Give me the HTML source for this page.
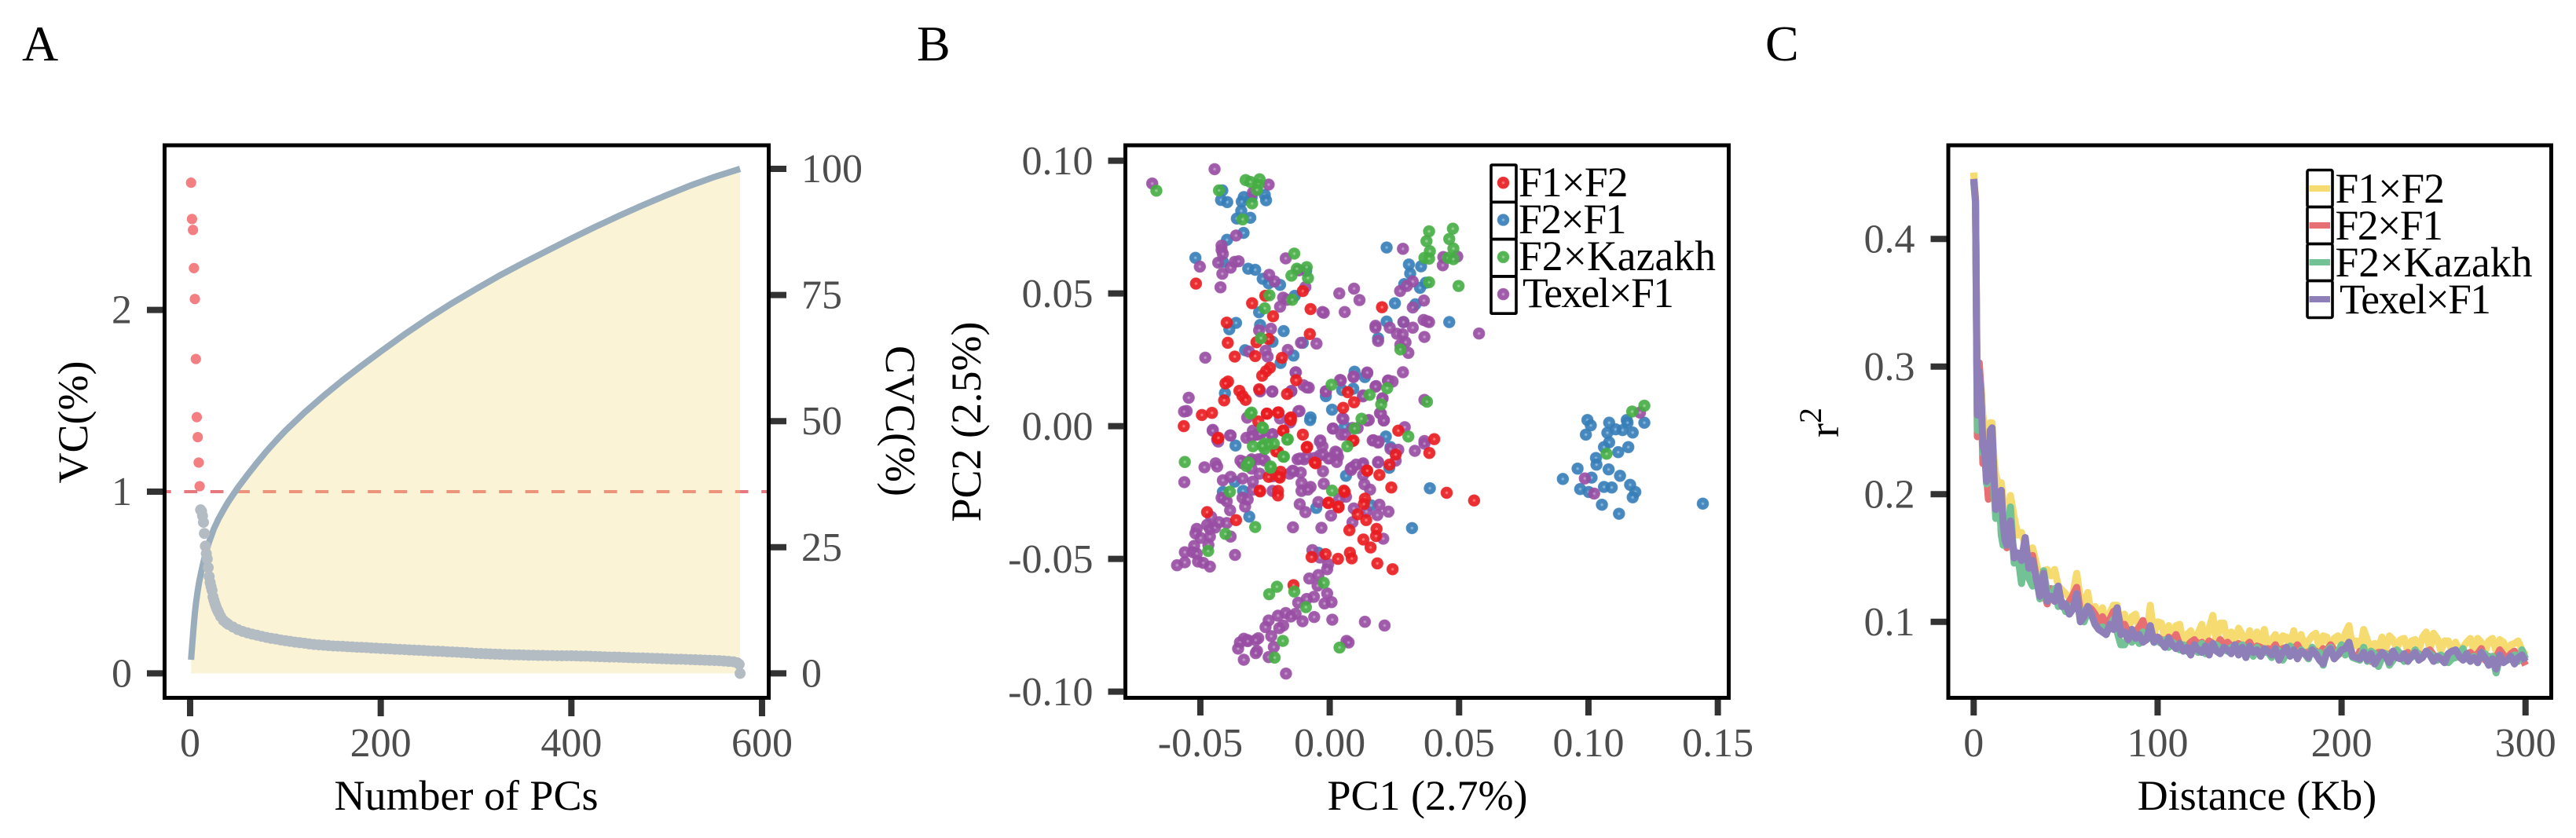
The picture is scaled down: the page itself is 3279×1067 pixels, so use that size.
<!DOCTYPE html>
<html lang="en">
<head>
<meta charset="utf-8">
<title>PCA and LD decay panels</title>
<style>
html,body{margin:0;padding:0;background:#fff;}
svg{display:block;}
text{font-family:"Liberation Serif",serif;}
.tick{font-size:52px;fill:#4d4d4d;}
.title{font-size:54px;fill:#000;}
.legend{font-size:53.5px;fill:#000;}
.panel-tag{font-size:64px;fill:#000;}
</style>
</head>
<body>
<svg id="chart" xmlns="http://www.w3.org/2000/svg" width="3279" height="1067" viewBox="0 0 3279 1067">
<defs>
<radialGradient id="g-red"><stop offset="0" stop-color="#f77"/><stop offset=".14" stop-color="#f66"/><stop offset=".3" stop-color="#e81c20"/><stop offset=".88" stop-color="#e81c20"/><stop offset="1" stop-color="#e81c20" stop-opacity=".75"/></radialGradient>
<radialGradient id="g-blue"><stop offset="0" stop-color="#7db4dc"/><stop offset=".14" stop-color="#74aed8"/><stop offset=".3" stop-color="#377eb8"/><stop offset=".88" stop-color="#377eb8"/><stop offset="1" stop-color="#377eb8" stop-opacity=".75"/></radialGradient>
<radialGradient id="g-green"><stop offset="0" stop-color="#8ed08c"/><stop offset=".14" stop-color="#85cc83"/><stop offset=".3" stop-color="#46ad44"/><stop offset=".88" stop-color="#46ad44"/><stop offset="1" stop-color="#46ad44" stop-opacity=".75"/></radialGradient>
<radialGradient id="g-purple"><stop offset="0" stop-color="#c08fc9"/><stop offset=".14" stop-color="#b988c2"/><stop offset=".3" stop-color="#984ea3"/><stop offset=".88" stop-color="#984ea3"/><stop offset="1" stop-color="#984ea3" stop-opacity=".75"/></radialGradient>
</defs>
<text class="panel-tag" x="28" y="77">A</text>
<text class="panel-tag" x="1167" y="77">B</text>
<text class="panel-tag" x="2247" y="77">C</text>
<g id="panelA"></g>
<g id="panelB"></g>
<g id="panelC"></g>

<text class="title" x="593.5" y="1031" text-anchor="middle">Number of PCs</text>
<text class="title" transform="translate(111 537.5) rotate(-90)" text-anchor="middle">VC(%)</text>
<text class="title" transform="translate(1128 536) rotate(90)" text-anchor="middle">CVC(%)</text>
<text class="title" x="1817" y="1031" text-anchor="middle">PC1 (2.7%)</text>
<text class="title" transform="translate(1248 537) rotate(-90)" text-anchor="middle">PC2 (2.5%)</text>
<text class="title" x="2873" y="1031" text-anchor="middle">Distance (Kb)</text>
<text class="title" transform="translate(2340 538) rotate(-90)" text-anchor="middle">r<tspan dy="-22" font-size="40">2</tspan></text>
</svg>
<script>
/* ---------- Panel A data ---------- */
var aXTicks = [0, 200, 400, 600];
var aYTicks = [0, 1, 2];
var aY2Ticks = [0, 25, 50, 75, 100];
var vcThreshold = 1;
var aboveThresholdPC = [1, 2, 3, 4, 5, 6, 7, 8, 9, 10];
var aboveThresholdVC = [2.70, 2.50, 2.44, 2.23, 2.06, 1.73, 1.41, 1.30, 1.16, 1.03];
var belowThresholdPC = [11,12,13,14,15,16,17,18,19,20,21,22,23,24,25,26,27,28,29,30,32,35,38,40,45,50,55,60,65,70,75,80,85,90,95,100,105,110,115,120,125,130,135,140,145,150,155,160,165,170,175,180,185,190,195,200,205,210,215,220,225,230,235,240,245,250,255,260,265,270,275,280,285,290,295,300,305,310,315,320,325,330,335,340,345,350,355,360,365,370,375,380,385,390,395,400,405,410,415,420,425,430,435,440,445,450,455,460,465,470,475,480,485,490,495,500,505,510,515,520,525,530,535,540,545,550,555,560,565,570,574,576,577];
var belowThresholdVC = [.900,.892,.867,.831,.770,.700,.659,.630,.582,.533,.500,.477,.457,.421,.403,.385,.370,.356,.345,.334,.313,.291,.278,.270,.255,.241,.231,.223,.216,.210,.204,.198,.193,.189,.184,.180,.176,.172,.169,.166,.162,.159,.157,.155,.153,.151,.150,.149,.147,.146,.144,.143,.142,.140,.139,.137,.136,.135,.133,.132,.131,.129,.128,.127,.126,.124,.123,.122,.121,.119,.118,.117,.115,.114,.112,.110,.109,.108,.107,.106,.105,.104,.103,.102,.102,.101,.100,.100,.099,.099,.098,.098,.097,.097,.097,.097,.096,.095,.095,.094,.093,.092,.091,.090,.090,.089,.088,.087,.086,.085,.085,.084,.083,.082,.081,.080,.079,.078,.078,.077,.076,.075,.074,.073,.072,.071,.070,.068,.066,.064,.058,.050,0];
var cvcPC = [1,2,3,4,5,6,7,8,9,10,12,14,16,18,20,25,30,35,40,50,60,70,80,90,100,120,140,160,180,200,225,250,275,300,325,350,375,400,425,450,475,500,525,550,577];
var cvcValues = [2.7,5.2,7.6,9.9,12.0,13.7,15.1,16.4,17.6,18.6,20.4,22.1,23.6,24.9,26.1,28.7,30.7,32.4,34.0,36.8,39.3,41.7,44.0,46.1,48.1,51.7,55.0,58.1,61.0,63.8,67.2,70.4,73.4,76.2,78.9,81.4,83.8,86.2,88.5,90.7,92.8,94.8,96.7,98.4,100];

/* ---------- Panel B data (PC scores in units of 0.001) ---------- */
var bXTicks = [-0.05, 0, 0.05, 0.10, 0.15];
var bXTickLabels = ["-0.05", "0.00", "0.05", "0.10", "0.15"];
var bYTicks = [-0.10, -0.05, 0, 0.05, 0.10];
var bYTickLabels = ["-0.10", "-0.05", "0.00", "0.05", "0.10"];
var legendLabels = ["F1×F2", "F2×F1", "F2×Kazakh", "Texel×F1"];
var legendTextWidths = [139.5, 137.5, 251, 193];
var f2f1PC1 = [-41.5,-42.0,-39.6,-33.2,-34.0,-25.1,-24.6,-30.2,-34.2,-35.9,-30.7,-33.3,-39.7,-51.9,-41.3,-31.5,-28.8,-25.9,-23.6,-19.2,-13.5,-9.1,22.0,30.6,35.3,31.1,28.8,37.1,34.9,25.2,33.1,22.0,28.5,46.2,18.7,-36.2,-38.8,-27.3,-26.9,-17.8,-22.1,-32.7,-14.0,-19.0,-10.4,9.6,13.6,9.1,4.8,-1.5,0.9,-40.5,-7.4,
 -36.4,-7.6,5.8,21.7,23.5,23.0,6.3,-36.7,-41.3,-33.5,-5.2,15.9,-31.1,31.8,38.7,-4.4,
 99.6,100.9,99.0,108.0,107.3,110.5,113.2,117.1,114.8,115.1,121.6,108.0,106.0,111.5,115.4,102.9,103.1,95.8,107.8,112.2,90.1,101.2,116.1,118.1,117.1,96.8,100.1,106.0,109.0,105.2,111.8,144.2];
var f2f1PC2 = [88.8,85.2,84.4,86.3,84.6,87.1,85.1,86.1,81.1,78.2,78.5,72.8,70.2,63.4,61.9,59.3,58.9,55.5,53.8,53.2,49.1,58.5,67.3,60.9,60.2,57.5,53.5,54.0,52.1,46.3,45.9,39.4,39.2,39.2,33.1,38.9,36.5,42.9,38.1,35.8,31.8,28.6,26.6,23.8,31.4,20.5,18.5,14.1,13.6,11.3,6.2,12.4,3.3,
 -7.3,2.3,-0.2,-3.9,-7.9,-15.7,-18.7,-20.9,-24.8,-24.4,-30.8,-29.8,-34.1,-38.4,-23.4,-47.7,
 2.3,0.3,-3.2,1.3,-2.5,-1.2,-1.5,-2.4,2.3,1.3,1.3,-6.1,-7.9,-9.8,-7.9,-12.0,-14.5,-16.0,-16.3,-18.7,-19.9,-19.4,-22.1,-24.8,-26.8,-23.7,-24.8,-22.9,-23.1,-29.6,-33.0,-29.2];
var texelF1PC1 = [-68.6,-44.5,-23.6,-29.7,-36.2,-41.8,-41.8,-41.3,-43.1,-50.2,-38.3,-36.7,-35.2,-41.5,-42.2,-17.0,-23.4,-21.3,-11.9,-9.4,-18.0,-16.5,-19.2,-2.3,-2.8,5.8,3.7,9.4,11.5,28.3,43.7,43.9,49.3,32.1,29.8,27.2,36.4,32.1,28.5,36.3,37.6,38.4,32.1,17.7,17.7,23.2,26.0,28.2,18.7,36.6,27.3,29.3,30.4,57.7,-27.3,-22.7,-11.1,-5.1,-31.2,-24.8,-24.0,-16.2,-48.1,-13.1,4.0,9.2,14.5,28.3,-10.1,-8.1,-26.9,-22.2,-14.8,-1.5,12.9,17.9,22.5,24.3,20.4,36.6,-54.5,-55.3,-56.3,-11.7,19.4,
 -45.2,-38.5,-43.1,-32.2,-29.7,-28.1,-26.6,-22.1,-32.2,-33.2,-30.2,-27.6,-25.1,-33.7,-44.1,-43.5,-48.4,-56.2,-41.3,-38.3,-33.7,-29.7,-27.1,-22.1,-30.2,-15.5,-14.0,-11.2,-9.9,-12.4,-5.9,-3.8,-2.8,-3.8,1.2,4.5,5.3,8.8,10.8,15.1,20.9,16.9,18.9,29.0,36.6,36.6,32.9,23.5,26.5,25.5,18.7,12.9,8.8,12.9,8.3,-2.6,0.2,2.2,3.2,2.7,-2.3,-10.9,-10.9,-7.4,-8.4,-22.1,-29.7,-40.8,-41.8,-39.8,-33.7,-31.7,-32.7,-38.5,-11.6,-4.4,-9.4,0.5,3.7,6.3,9.3,14.2,19.2,22.7,18.4,8.8,15.6,13.4,-45.8,-47.4,-46.3,-44.3,-39.8,-42.8,-51.4,-51.9,-49.9,-46.3,-46.9,-52.4,-56.0,-52.9,-51.4,-56.0,-59.0,-50.9,-48.9,-46.3,-38.3,-36.6,-14.2,-3.2,20.7,-6.7,-3.8,-0.6,-1.0,-4.4,-7.9,-4.7,-1.0,0.7,-2.0,-6.1,-8.9,-12.2,-13.2,-17.0,-20.0,-15.0,-23.6,-24.8,-18.0,-19.5,-10.5,-6.0,1.0,13.6,21.2,-22.6,-27.6,-28.6,-31.7,-33.2,-34.7,-31.7,-35.4,-21.6,-28.1,-28.6,-33.2,-23.6,-16.9,6.5,7.3,
 119.9,98.6,102.2,
 -31.9,-28.5,-30.2,-27.0,-22.4,-19.2,-15.3,-12.1,-45.2,-38.3,-43.5,-30.2,-34.5,-26.0,-21.7,-14.3,-11.5,-8.9,-3.6,-2.6,-0.4,2.8,8.1,10.2,12.8,16.6,18.7,18.7,20.9,19.8,14.5,1.3,4.9,6.0,20.4,22.6,17.7,12.8,-1.5,4.3,9.2,14.5,-8.9,-14.9,-22.2,-27.0,-13.2];
var texelF1PC2 = [91.4,96.8,91.0,88.0,71.8,68.0,66.4,64.9,61.6,60.1,59.7,61.9,62.1,57.4,52.3,63.2,57.0,54.5,58.7,52.4,48.4,47.6,45.0,42.7,43.0,43.0,50.0,51.8,47.5,66.8,60.6,63.7,63.9,54.5,52.8,50.9,47.3,44.7,39.2,40.0,39.5,39.2,37.1,37.8,37.1,37.1,34.8,34.6,32.1,33.6,30.6,31.6,27.6,34.9,36.1,36.7,31.4,31.1,28.1,28.4,26.2,28.7,25.8,20.3,17.4,18.5,20.0,20.3,15.4,14.5,13.1,13.0,13.3,13.1,11.6,15.1,17.1,16.8,10.5,9.9,10.7,5.7,5.5,5.7,4.9,
 -1.4,-3.5,-5.8,-4.4,-1.7,-3.2,-2.7,-3.0,-13.8,-13.5,-12.5,-12.5,-13.0,-14.0,-14.0,-15.2,-15.5,-21.1,-20.4,-19.1,-19.7,-20.9,-17.9,-18.9,-16.0,-17.9,-17.0,-17.5,-12.5,-12.5,-12.0,-11.0,-7.6,-5.8,-0.9,-3.2,2.8,-0.7,-0.7,2.3,2.3,-5.3,-5.8,-0.4,-5.6,-6.6,-9.3,-8.6,-8.9,-13.0,-13.5,-14.0,-15.5,-18.4,-16.5,-17.0,-12.0,-9.6,-11.5,-13.5,-21.7,-21.4,-24.4,-22.9,-23.9,-24.4,-23.9,-27.3,-27.0,-28.3,-27.0,-27.6,-30.3,-31.7,-29.4,-28.6,-32.4,-33.7,-27.3,-26.6,-31.0,-32.2,-29.6,-32.2,-33.5,-36.2,-23.9,-21.9,-34.2,-37.2,-38.7,-38.2,-36.5,-36.2,-38.7,-40.4,-42.1,-41.6,-44.8,-45.1,-47.5,-47.5,-48.0,-51.3,-52.4,-51.0,-51.5,-52.9,-41.6,-48.5,-38.1,-38.3,-42.4,-46.7,-49.5,-52.0,-53.9,-56.1,-57.4,-60.1,-63.0,-66.3,-66.8,-64.3,-65.1,-66.5,-70.7,-70.4,-71.4,-71.7,-73.2,-75.7,-75.1,-76.1,-73.5,-71.9,-72.9,-73.7,-75.1,-79.1,-79.9,-80.6,-80.6,-80.1,-81.5,-81.0,-83.8,-83.2,-84.7,-85.5,-88.0,-87.0,-93.2,-80.9,-81.5,
 5.1,-19.7,-25.4,
 3.2,-3.2,-3.9,-2.9,-3.2,2.9,1.4,5.6,-1.7,-3.5,-5.1,-13.0,-13.0,-12.2,-18.3,-16.8,-12.2,-11.5,-5.4,-10.7,-12.2,-10.0,-16.0,-14.5,-14.5,-5.4,-6.2,-13.7,2.1,4.7,2.1,-0.9,2.9,-3.2,10.4,17.2,14.9,11.2,13.1,17.2,18.7,20.2,14.6,13.1,13.1,13.4,20.2];
var f1f2PC1 = [-51.7,-24.9,-30.0,-21.9,-10.4,-7.4,20.2,-39.8,-7.7,-39.4,-28.3,-23.6,-36.7,-28.8,-18.5,-23.1,-24.6,-26.1,-13.0,-39.3,-40.3,-34.9,-33.7,-32.5,-27.3,-16.5,-40.8,7.0,9.4,5.2,-49.4,-45.5,-24.3,-19.8,-15.0,
 -56.4,-43.3,-18.0,-10.4,8.8,26.5,40.4,38.5,25.5,23.1,19.2,14.4,-8.7,-20.0,-5.4,-19.0,-19.3,-23.6,23.8,45.2,55.8,-26.9,-20.0,-20.0,5.8,-0.6,3.4,13.6,13.2,10.8,14.1,-47.4,-36.2,7.6,18.1,17.9,13.0,15.8,-1.6,-7.0,3.2,7.8,8.5,18.4,24.3,-14.0,-27.6,-15.0,
 -24.3,-20.0,-15.3,-17.9,-43.0,9.2,-8.9,-20.7,-5.8,14.5,-19.6,-27.0,5.5,-0.4,3.4];
var f1f2PC2 = [53.7,49.1,46.3,41.4,50.9,44.1,44.8,39.0,34.7,31.4,31.6,32.8,26.2,26.4,25.7,22.0,20.7,19.0,17.3,16.8,16.1,13.3,11.4,9.9,13.9,12.1,9.7,12.8,9.0,6.9,4.2,5.0,4.7,5.2,3.3,
 0,-4.6,-1.7,-3.2,-5.6,-1.7,-4.9,-10.1,-10.7,-14.5,-18.4,-16.7,-7.8,-9.6,-14.0,-17.2,-19.4,-19.1,-23.1,-25.1,-28.0,-24.6,-24.4,-26.1,-24.8,-29.0,-30.6,-27.3,-29.3,-33.2,-35.4,-32.4,-35.4,-39.2,-38.7,-41.4,-42.7,-45.7,-48.2,-49.3,-50.0,-47.7,-49.8,-51.7,-53.9,-59.9,1.8,2.3,
 4.7,5.1,2.9,-1.7,-4.4,-5.4,-8.0,-9.5,-13.7,-16.8,-19.0,-24.3,-24.3,-28.8,-30.3];
var f2KazakhPC1 = [-67.0,-42.8,-32.5,-30.7,-27.1,-27.6,-28.1,-30.0,-33.7,-13.7,38.4,47.6,37.4,46.2,38.7,47.8,36.6,38.4,45.7,47.8,49.8,38.4,-12.7,-8.9,-14.8,-8.4,-23.3,-14.5,-25.1,-26.6,0.7,15.4,22.2,19.9,37.6,-30.7,27.3,
 -56.0,-29.7,-25.1,-21.6,-25.1,-16.2,-17.7,-22.9,-32.2,-25.8,9.6,6.8,12.3,30.4,0.9,-38.6,-28.8,-40.3,-47.0,-20.4,-23.4,-13.7,-2.3,-9.2,-18.1,-21.3,3.8,
 121.6,116.9,107.0,
 -23.9,-26.0,-16.4,-26.0,-30.2,-17.9,-22.8,-31.3];
var f2KazakhPC2 = [88.7,88.8,92.7,92.0,93.0,91.0,89.0,83.9,77.9,65.0,73.4,74.4,69.7,70.5,65.9,66.9,63.4,63.1,63.4,62.9,52.8,54.2,59.3,59.9,56.7,55.8,49.3,47.6,44.4,33.1,15.6,11.8,14.3,8.2,9.2,4.7,28.9,
 -13.5,-7.6,-6.6,-6.6,-8.6,-4.9,-11.5,-15.7,-15.0,-0.7,-0.9,-7.6,2.8,-3.9,-24.3,-24.7,-38.0,-40.6,-47.0,-60.5,-63.3,-62.3,-59.0,-68.2,-80.9,-87.2,-83.4,
 7.7,5.5,-10.4,
 -6.9,-7.4,-5.1,-0.5,5.1,-11.5,-15.2,-13.7];

/* ---------- Panel C data ---------- */
var cXTicks = [0, 100, 200, 300];
var cYTicks = [0.1, 0.2, 0.3, 0.4];
var distanceKb = [0,1,2,3,4,5,6,7,8,9,10,11,12,13,14,15,16,17,18,19,20,
 22,24,26,28,30,32,34,36,38,40,
 42,44,46,48,50,52,54,56,58,60,
 62,64,66,68,70,72,74,76,78,80,
 82,84,86,88,90,92,94,96,98,100,
 102,104,106,108,110,112,114,116,118,120,
 122,124,126,128,130,132,134,136,138,140,
 142,144,146,148,150,152,154,156,158,160,
 162,164,166,168,170,172,174,176,178,180,
 182,184,186,188,190,192,194,196,198,200,
 202,204,206,208,210,212,214,216,218,220,
 222,224,226,228,230,232,234,236,238,240,
 242,244,246,248,250,252,254,256,258,260,
 262,264,266,268,270,272,274,276,278,280,
 282,284,286,288,290,292,294,296,298,300];
var ldF1F2 = [.452,.432,.268,.300,.285,.262,.250,.230,.235,.256,.256,.228,.215,.210,.208,.209,.196,.186,.178,.185,.199,
 .182,.168,.170,.160,.155,.158,.146,.134,.140,.141,
 .136,.141,.128,.125,.122,.119,.122,.138,.118,.114,
 .123,.104,.112,.100,.111,.098,.107,.113,.113,.094,
 .106,.092,.104,.106,.094,.100,.088,.113,.090,.100,
 .099,.086,.097,.084,.097,.098,.082,.090,.093,.082,
 .091,.098,.082,.095,.105,.083,.099,.099,.082,.092,
 .084,.095,.090,.080,.093,.081,.092,.080,.094,.080,
 .086,.090,.080,.089,.088,.080,.093,.079,.090,.080,
 .085,.089,.091,.079,.089,.088,.078,.087,.089,.079,
 .091,.097,.080,.085,.078,.094,.086,.078,.083,.080,
 .088,.078,.089,.086,.079,.086,.087,.077,.085,.086,
 .078,.088,.092,.078,.091,.087,.077,.085,.085,.077,
 .084,.077,.080,.084,.087,.077,.087,.084,.076,.085,
 .087,.077,.086,.084,.076,.082,.083,.085,.078,.074];
var ldF2F1 = [.447,.430,.245,.303,.280,.224,.240,.215,.196,.250,.248,.210,.185,.195,.198,.170,.182,.162,.158,.165,.170,
 .155,.146,.150,.138,.140,.152,.135,.128,.124,.114,
 .126,.122,.118,.112,.110,.116,.121,.127,.108,.104,
 .112,.110,.106,.100,.104,.098,.102,.108,.110,.096,
 .098,.092,.094,.092,.096,.101,.090,.094,.086,.088,
 .086,.084,.088,.085,.090,.082,.080,.081,.084,.086,
 .082,.084,.080,.085,.083,.080,.086,.082,.084,.081,
 .080,.083,.079,.081,.084,.078,.081,.080,.076,.079,
 .078,.082,.076,.079,.080,.077,.079,.082,.077,.076,
 .076,.079,.077,.075,.079,.077,.082,.078,.074,.076,
 .080,.082,.074,.071,.077,.078,.072,.069,.074,.076,
 .076,.075,.074,.077,.073,.075,.071,.076,.073,.074,
 .075,.073,.076,.078,.074,.070,.073,.071,.075,.072,
 .074,.072,.073,.075,.076,.073,.075,.079,.070,.073,
 .071,.072,.078,.074,.071,.075,.077,.070,.072,.066];
var ldF2Kazakh = [.445,.428,.250,.290,.278,.232,.238,.208,.210,.246,.240,.205,.181,.190,.198,.168,.160,.165,.170,.178,.190,
 .146,.152,.130,.148,.134,.128,.136,.118,.140,.122,
 .118,.126,.112,.116,.108,.112,.110,.118,.106,.100,
 .108,.106,.098,.094,.096,.090,.097,.102,.092,.082,
 .082,.088,.084,.088,.083,.092,.086,.090,.084,.085,
 .083,.086,.080,.084,.082,.078,.082,.077,.075,.080,
 .076,.083,.075,.080,.078,.082,.079,.078,.077,.080,
 .080,.077,.082,.075,.079,.073,.080,.074,.079,.076,
 .072,.079,.077,.070,.075,.081,.076,.072,.078,.075,
 .071,.080,.074,.076,.066,.077,.080,.073,.076,.082,
 .074,.078,.072,.071,.070,.080,.069,.077,.075,.065,
 .072,.075,.066,.070,.078,.075,.069,.071,.072,.078,
 .074,.072,.077,.075,.073,.070,.074,.072,.068,.071,
 .072,.075,.079,.071,.070,.073,.068,.076,.075,.071,
 .073,.060,.072,.069,.070,.071,.074,.069,.078,.071];
var ldTexelF1 = [.447,.430,.262,.296,.278,.238,.232,.210,.212,.250,.252,.215,.188,.198,.201,.203,.178,.164,.160,.168,.179,
 .150,.154,.148,.166,.142,.148,.134,.120,.138,.116,
 .120,.116,.128,.112,.114,.106,.110,.122,.100,.104,
 .112,.106,.098,.094,.092,.090,.098,.094,.111,.090,
 .092,.086,.094,.087,.090,.084,.086,.097,.084,.088,
 .084,.080,.087,.082,.079,.083,.077,.080,.074,.082,
 .078,.076,.081,.074,.083,.077,.075,.080,.078,.075,
 .082,.074,.080,.072,.081,.076,.078,.073,.079,.077,
 .074,.079,.070,.076,.080,.073,.078,.071,.077,.075,
 .072,.078,.075,.070,.067,.076,.079,.071,.074,.078,
 .079,.084,.073,.072,.071,.076,.070,.075,.067,.072,
 .076,.073,.068,.077,.072,.071,.075,.069,.073,.076,
 .070,.072,.077,.074,.069,.073,.071,.068,.075,.077,
 .078,.073,.070,.075,.069,.072,.068,.076,.072,.066,
 .071,.063,.074,.068,.070,.073,.067,.072,.074,.069];

/* ---------- Axis functions ---------- */
function axX(v){ return 242 + v * 1.2133; }
function ayVC(v){ return 857.4 - v * 231.4; }
function ayCVC(v){ return 857.4 - v * 6.424; }
function bxPC(v){ return 1692.6 + v * 3293.5; }
function byPC(v){ return 542.6 - v * 3380; }
function bxScore(v){ return bxPC(v / 1000); }
function byScore(v){ return byPC(v / 1000); }
function cxKb(v){ return 2512.3 + v * 2.3415; }
function cyR2(v){ return 791.7 - (v - 0.1) * 1625; }

var NS = 'http://www.w3.org/2000/svg';
function mk(parent, tag, attrs, text){
  var el = document.createElementNS(NS, tag);
  for (var k in attrs) el.setAttribute(k, attrs[k]);
  if (text !== undefined) el.textContent = text;
  parent.appendChild(el);
  return el;
}
function pathOf(xs, ys, fx, fy){
  var d = '';
  for (var i = 0; i < xs.length; i++) d += (i ? 'L' : 'M') + fx(xs[i]).toFixed(2) + ' ' + fy(ys[i]).toFixed(2);
  return d;
}
var el;

/* ---------- Panel A ---------- */
var A = document.getElementById('panelA');
el = mk(A, 'line', {x1: 209, x2: 978, y1: ayVC(vcThreshold), y2: ayVC(vcThreshold), stroke: '#e2565f', 'stroke-width': 4, 'stroke-dasharray': '16.7 16.7', 'stroke-dashoffset': 8, 'stroke-opacity': .8});


el = mk(A, 'path', {d: pathOf(cvcPC, cvcValues, axX, ayCVC) + 'L' + axX(cvcPC[cvcPC.length - 1]) + ' ' + ayCVC(0) + 'L' + axX(cvcPC[0]) + ' ' + ayCVC(0) + 'Z', fill: '#f1d773', 'fill-opacity': .3});


el = mk(A, 'path', {d: pathOf(cvcPC, cvcValues, axX, ayCVC), fill: 'none', stroke: '#9aadbc', 'stroke-width': 8, 'stroke-linejoin': 'round'});


belowThresholdPC.forEach(function(p, i){
  var c = mk(A, 'circle', {cx: axX(p), cy: ayVC(belowThresholdVC[i]), r: 7, fill: '#b3bbc3'});
  
  
});
aboveThresholdPC.forEach(function(p, i){
  var c = mk(A, 'circle', {cx: axX(p), cy: ayVC(aboveThresholdVC[i]), r: 6.6, fill: '#f47f82'});
  
  
});
el = mk(A, 'rect', {x: 209.5, y: 185, width: 769, height: 703.5, fill: 'none', stroke: '#000', 'stroke-width': 5});


aXTicks.forEach(function(t){
  var m = mk(A, 'line', {x1: axX(t), x2: axX(t), y1: 891, y2: 912, stroke: '#333', 'stroke-width': 8});
  
  
  var l = mk(A, 'text', {x: axX(t), y: 963, 'text-anchor': 'middle', 'class': 'tick'}, String(t));
  
  
});
aYTicks.forEach(function(t){
  var m = mk(A, 'line', {x1: 187, x2: 207, y1: ayVC(t), y2: ayVC(t), stroke: '#333', 'stroke-width': 8});
  
  
  var l = mk(A, 'text', {x: 168, y: ayVC(t) + 17, 'text-anchor': 'end', 'class': 'tick'}, String(t));
  
  
});
aY2Ticks.forEach(function(t){
  var m = mk(A, 'line', {x1: 981, x2: 1001, y1: ayCVC(t), y2: ayCVC(t), stroke: '#333', 'stroke-width': 8});
  
  
  var l = mk(A, 'text', {x: 1020, y: ayCVC(t) + 17, 'class': 'tick'}, String(t));
  
  
});

/* ---------- Panel B ---------- */
var B = document.getElementById('panelB');
function scatter(xs, ys, grad, name){
  xs.forEach(function(x, i){
    var c = mk(B, 'circle', {cx: bxScore(x), cy: byScore(ys[i]), r: 7.8, fill: 'url(#' + grad + ')', opacity: .92});
    
    
  });
}
scatter(f2f1PC1, f2f1PC2, 'g-blue', 'point-f2-f1');
scatter(texelF1PC1, texelF1PC2, 'g-purple', 'point-texel-f1');
scatter(f1f2PC1, f1f2PC2, 'g-red', 'point-f1-f2');
scatter(f2KazakhPC1, f2KazakhPC2, 'g-green', 'point-f2-kazakh');
el = mk(B, 'rect', {x: 1432.5, y: 185, width: 768, height: 703.5, fill: 'none', stroke: '#000', 'stroke-width': 5});


bXTicks.forEach(function(t, i){
  var m = mk(B, 'line', {x1: bxPC(t), x2: bxPC(t), y1: 891, y2: 911, stroke: '#333', 'stroke-width': 8});
  
  
  var l = mk(B, 'text', {x: bxPC(t), y: 963, 'text-anchor': 'middle', 'class': 'tick'}, bXTickLabels[i]);
  
  
});
bYTicks.forEach(function(t, i){
  var m = mk(B, 'line', {x1: 1410.5, x2: 1430.5, y1: byPC(t), y2: byPC(t), stroke: '#333', 'stroke-width': 8});
  
  
  var l = mk(B, 'text', {x: 1391.5, y: byPC(t) + 17.3, 'text-anchor': 'end', 'class': 'tick'}, bYTickLabels[i]);
  
  
});
var bLegendGrads = ['g-red', 'g-blue', 'g-green', 'g-purple'];
legendLabels.forEach(function(label, i){
  var top = 210 + i * 47.3;
  var k = mk(B, 'rect', {x: 1898, y: top, width: 32, height: 47.3, fill: 'none', stroke: '#000', 'stroke-width': 3.6, rx: 1});
  
  
  var d = mk(B, 'circle', {cx: 1913.5, cy: top + 22.7, r: 7.8, fill: 'url(#' + bLegendGrads[i] + ')', opacity: .92});
  
  
  var t = mk(B, 'text', {x: i === 3 ? 1938 : 1933, y: 250 + i * 47, 'class': 'legend', textLength: legendTextWidths[i], lengthAdjust: 'spacing'}, label);
  
  
});

/* ---------- Panel C ---------- */
var C = document.getElementById('panelC');
function ldLine(values, color, name){
  var p = mk(C, 'path', {d: pathOf(distanceKb, values, cxKb, cyR2), fill: 'none', stroke: color, 'stroke-width': 9, 'stroke-linejoin': 'round'});
  
  
}
ldLine(ldF1F2, '#f6db70', 'line-f1-f2');
ldLine(ldF2F1, '#e76f74', 'line-f2-f1');
ldLine(ldF2Kazakh, '#72c296', 'line-f2-kazakh');
ldLine(ldTexelF1, '#8e7fb9', 'line-texel-f1');
el = mk(C, 'rect', {x: 2480, y: 185, width: 767.5, height: 703.5, fill: 'none', stroke: '#000', 'stroke-width': 5});


cXTicks.forEach(function(t){
  var m = mk(C, 'line', {x1: cxKb(t), x2: cxKb(t), y1: 891, y2: 911, stroke: '#333', 'stroke-width': 8});
  
  
  var l = mk(C, 'text', {x: cxKb(t), y: 963, 'text-anchor': 'middle', 'class': 'tick'}, String(t));
  
  
});
cYTicks.forEach(function(t){
  var m = mk(C, 'line', {x1: 2457.5, x2: 2477.5, y1: cyR2(t), y2: cyR2(t), stroke: '#333', 'stroke-width': 8});
  
  
  var l = mk(C, 'text', {x: 2437.5, y: cyR2(t) + 17.3, 'text-anchor': 'end', 'class': 'tick'}, t.toFixed(1));
  
  
});
var cLegendColors = ['#f6db70', '#e76f74', '#72c296', '#8e7fb9'];
legendLabels.forEach(function(label, i){
  var top = 216.5 + i * 47;
  var k = mk(C, 'rect', {x: 2937, y: top, width: 32, height: 47, fill: 'none', stroke: '#000', 'stroke-width': 3.6, rx: 2});
  
  
  var s = mk(C, 'line', {x1: 2939.5, x2: 2966, y1: top + 23.5, y2: top + 23.5, stroke: cLegendColors[i], 'stroke-width': 8});
  
  
  var t = mk(C, 'text', {x: i === 3 ? 2978 : 2972.5, y: 258 + i * 47, 'class': 'legend', textLength: legendTextWidths[i], lengthAdjust: 'spacing'}, label);
  
  
});
</script>
</body>
</html>
